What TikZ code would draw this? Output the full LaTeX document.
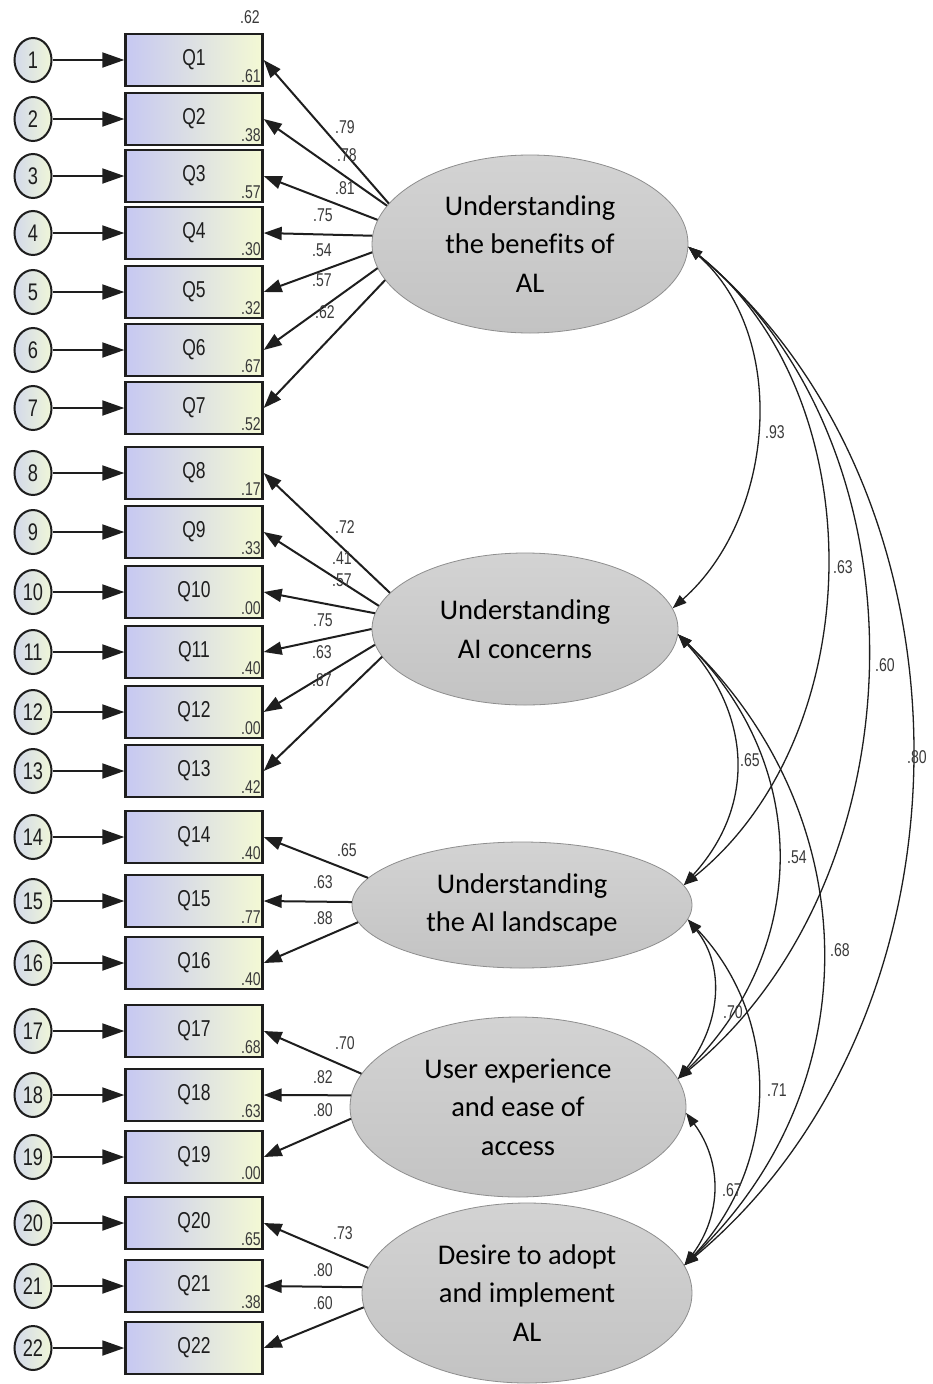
\documentclass[tikz,border=0pt]{standalone}
\usepackage{fontspec}
\setmainfont[Ligatures=CommonOff]{Carlito}
\newfontfamily\amos[FakeStretch=0.76]{Liberation Sans}
\usetikzlibrary{shapes.geometric,arrows.meta}
\definecolor{boxL}{HTML}{C6C8F2}
\definecolor{boxR}{HTML}{F4F9D4}
\definecolor{circL}{HTML}{D3D9EA}
\definecolor{circR}{HTML}{EFF6D8}
\definecolor{latT}{HTML}{D3D3D3}
\definecolor{latB}{HTML}{C3C3C3}
\definecolor{latdraw}{HTML}{8E8E8E}
\definecolor{ink}{HTML}{1E1E1E}
\definecolor{numc}{HTML}{3A3A3A}
\begin{document}
\begin{tikzpicture}[x=1pt,y=-1pt,
  obs/.style={rectangle, draw=ink, line width=2.4pt, left color=boxL, right color=boxR,
    minimum width=137pt, minimum height=52pt, inner sep=0pt,
    font=\amos\fontsize{23}{25}\selectfont, text=ink},
  err/.style={ellipse, draw=ink, line width=2pt, left color=circL, right color=circR,
    minimum width=37pt, minimum height=44pt, inner sep=0pt,
    font=\amos\fontsize{24}{26}\selectfont, text=ink},
  lat/.style={ellipse, draw=latdraw, line width=0.8pt, top color=latT, bottom color=latB,
    inner sep=0pt, align=center, text=black, font=\fontsize{28.5}{38.5}\selectfont},
  earr/.style={line width=1.9pt, draw=ink, -{Triangle[length=22pt,width=15pt]}},
  load/.style={line width=2pt, draw=ink, -{Triangle[length=18pt,width=13pt]}},
  cov/.style={line width=1.3pt, draw=ink,
    {Triangle[length=14pt,width=10pt]}-{Triangle[length=14pt,width=10pt]}},
  lab/.style={font=\amos\fontsize{18.5}{20}\selectfont, text=numc, inner sep=0pt},
  r2/.style={font=\amos\fontsize{18.5}{20}\selectfont, text=numc, inner sep=0pt}
]
\fill[white] (0,0) rectangle (933,1384);
\useasboundingbox (0,0) rectangle (933,1384);

% indicators, errors, R^2
\foreach \i/\y/\r in {1/60/.61, 2/119/.38, 3/176/.57, 4/233/.30, 5/292/.32, 6/350/.67,
  7/408/.52, 8/473/.17, 9/532/.33, 10/592/.00, 11/652/.40, 12/712/.00, 13/771/.42,
  14/837/.40, 15/901/.77, 16/963/.40, 17/1031/.68, 18/1095/.63, 19/1157/.00,
  20/1223/.65, 21/1286/.38, 22/1348/{}} {
  \node[err] (e\i) at (33,\y) {\i};
  \node[obs] (Q\i) at (194,\y) {Q\i};
  \draw[earr] (e\i) -- (Q\i);
  \node[r2] (r\i) at (251,\y+16) {\r};
}
\node[r2] (rtop) at (250,17) {.62};

% latent variables
\node[lat, minimum width=316pt, minimum height=178pt] (E1) at (530,244)
  {Understanding\\the benefits of\\AL};
\node[lat, minimum width=306pt, minimum height=152pt] (E2) at (525,629)
  {Understanding\\AI concerns};
\node[lat, minimum width=340pt, minimum height=126pt] (E3) at (522,905)
  {Understanding\\the AI landscape};
\node[lat, minimum width=336pt, minimum height=180pt] (E4) at (518,1107)
  {User experience\\and ease of\\access};
\node[lat, minimum width=330pt, minimum height=180pt] (E5) at (527,1293)
  {Desire to adopt\\and implement\\AL};

% loadings
\foreach \q/\a in {1/164, 2/165, 3/171, 4/177, 5/183, 6/189, 7/194}
  \draw[load] (E1.\a) -- (Q\q.east);
\foreach \q/\a in {8/165, 9/171, 10/174, 11/180, 12/186, 13/191}
  \draw[load] (E2.\a) -- (Q\q.east);
\foreach \q/\a in {14/170, 15/179, 16/186}
  \draw[load] (E3.\a) -- (Q\q.east);
\foreach \q/\a in {17/168, 18/176, 19/184}
  \draw[load] (E4.\a) -- (Q\q.east);
\foreach \q/\a in {20/171, 21/178, 22/185}
  \draw[load] (E5.\a) -- (Q\q.east);

% loading labels
\foreach \n/\x/\y/\t in {1/345/127/.79, 2/347/155/.78, 3/345/188/.81, 4/323/215/.75,
  5/322/250/.54, 6/322/280/.57, 7/325/312/.62,
  8/345/527/.72, 9/342/558/.41, 10/342/580/.57, 11/323/620/.75, 12/322/652/.63, 13/322/680/.87,
  14/347/850/.65, 15/323/882/.63, 16/323/918/.88,
  17/345/1043/.70, 18/323/1077/.82, 19/323/1110/.80,
  20/343/1233/.73, 21/323/1270/.80, 22/323/1303/.60}
  \node[lab] (l\n) at (\x,\y) {\t};

% covariances
\draw[cov] (E1.-1) .. controls +(102,90) and +(102,-90) .. (E2.8);
\draw[cov] (E1.-1) .. controls +(187,150) and +(187,-150) .. (E3.7);
\draw[cov] (E1.-1) .. controls +(245,200) and +(245,-200) .. (E4.10);
\draw[cov] (E1.-1) .. controls +(300,250) and +(300,-250) .. (E5.10);
\draw[cov] (E2.-2) .. controls +(73,80) and +(73,-80) .. (E3.7);
\draw[cov] (E2.-2) .. controls +(133,130) and +(133,-130) .. (E4.10);
\draw[cov] (E2.-2) .. controls +(188,180) and +(188,-180) .. (E5.10);
\draw[cov] (E3.-5) .. controls +(40,50) and +(40,-50) .. (E4.10);
\draw[cov] (E3.-5) .. controls +(95,100) and +(95,-100) .. (E5.10);
\draw[cov] (E4.-2) .. controls +(37,50) and +(37,-50) .. (E5.10);

% covariance labels
\foreach \n/\x/\y/\t in {a/775/432/.93, b/843/567/.63, c/885/665/.60, d/917/757/.80,
  e/750/760/.65, f/797/857/.54, g/840/950/.68, h/733/1012/.70, i/777/1090/.71, j/732/1190/.67}
  \node[lab] (c\n) at (\x,\y) {\t};
\end{tikzpicture}
\end{document}
